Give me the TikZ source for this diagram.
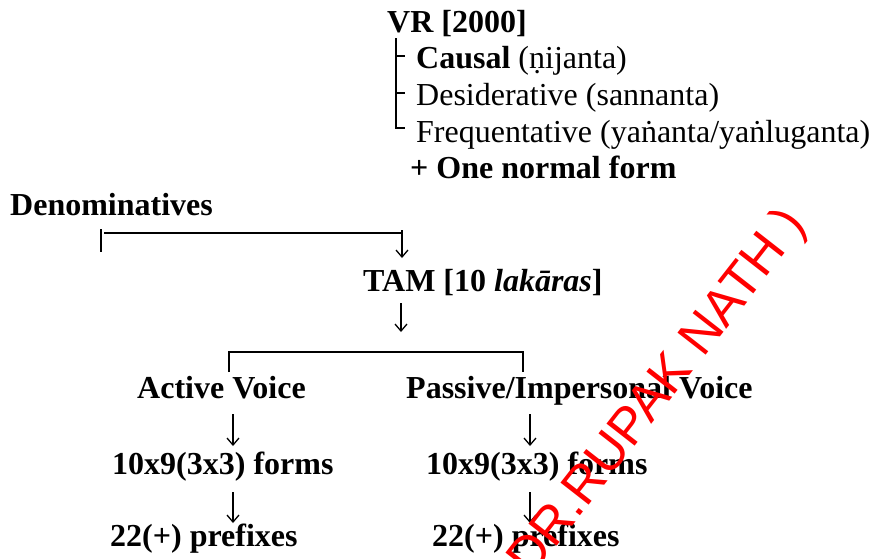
\documentclass[tikz,border=0pt]{standalone}
\usepackage{fontspec}
\setmainfont{Liberation Serif}
\newfontfamily\wmfont{Liberation Sans}
\usetikzlibrary{arrows.meta}
\begin{document}
\begin{tikzpicture}[x=1pt,y=-1pt,
  txt/.style={anchor=base west, inner sep=0pt, font=\fontsize{32}{38}\selectfont},
  btxt/.style={anchor=base west, inner sep=0pt, font=\fontsize{32}{38}\selectfont\bfseries},
  ln/.style={line width=1.6pt},
  brk/.style={line width=2.6pt},
  darr/.style={line width=1.3pt, -{Straight Barb[length=7pt,width=12pt,line width=1.3pt]}},
  wm/.style={anchor=base west, inner sep=0pt, rotate=52, text=red, font=\wmfont\fontsize{52}{60}\selectfont}
]
\useasboundingbox (0,0) rectangle (871,558);
% texts
\node[btxt] (vr)   at (387,32)  {VR [2000]};
\node[txt]  (caus) at (416,68)  {\textbf{Causal} (ṇijanta)};
\node[txt]  (des)  at (416,105) {Desiderative (sannanta)};
\node[txt]  (freq) at (416,142) {Frequentative (yaṅanta/yaṅluganta)};
\node[btxt] (one)  at (410,178) {+ One normal form};
\node[btxt] (den)  at (10,215)  {Denominatives};
\node[btxt] (tam)  at (363,291) {TAM [10 \textit{lakāras}]};
\node[btxt] (act)  at (137,398) {Active Voice};
\node[btxt] (pas)  at (406,398) {Passive/Impersonal Voice};
\node[btxt] (fa)   at (112,474) {10x9(3x3) forms};
\node[btxt] (fp)   at (426,474) {10x9(3x3) forms};
\node[btxt] (pa)   at (110,546) {22(+) prefixes};
\node[btxt] (pp)   at (432,546) {22(+) prefixes};
% coordinates
\coordinate (vt) at (396,38);
\coordinate (vb) at (396,128);
\coordinate (v1) at (396,56);
\coordinate (v2) at (396,93);
\coordinate (v1e) at (405,56);
\coordinate (v2e) at (405,93);
\coordinate (vbe) at (405,128);
\coordinate (dt) at (101,229);
\coordinate (db) at (101,252);
\coordinate (dl) at (104,233);
\coordinate (dr) at (403,233);
\coordinate (da1) at (402,230);
\coordinate (da2) at (402,258);
\coordinate (ta1) at (401,303);
\coordinate (ta2) at (401,332);
\coordinate (bl) at (229,372);
\coordinate (blt) at (229,352);
\coordinate (brt) at (523,352);
\coordinate (br) at (523,372);
\coordinate (a1) at (233,414);
\coordinate (a2) at (233,446);
\coordinate (a3) at (233,492);
\coordinate (a4) at (233,523);
\coordinate (p1) at (530,414);
\coordinate (p2) at (530,446);
\coordinate (p3) at (530,492);
\coordinate (p4) at (530,523);
% connectors
\draw[ln] (vt) -- (vb) -- (vbe);
\draw[ln] (v1) -- (v1e);
\draw[ln] (v2) -- (v2e);
\draw[ln] (dt) -- (db);
\draw[ln] (dl) -- (dr);
\draw[darr] (da1) -- (da2);
\draw[darr] (ta1) -- (ta2);
\draw[brk] (bl) -- (blt) -- (brt) -- (br);
\draw[darr] (a1) -- (a2);
\draw[darr] (a3) -- (a4);
\draw[darr] (p1) -- (p2);
\draw[darr] (p3) -- (p4);
% watermark
\node[wm] (mark) at (531,579) {DR.RUPAK NATH )};
\end{tikzpicture}
\end{document}
